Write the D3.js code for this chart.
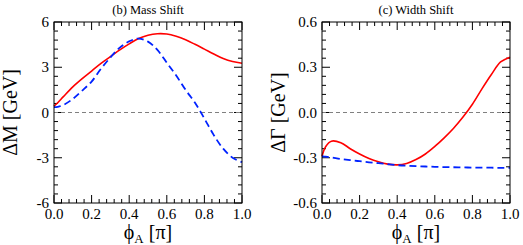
<!DOCTYPE html>
<html>
<head>
<meta charset="utf-8">
<script src="https://d3js.org/d3.v7.min.js"></script>
<style>
  body { margin: 0; background: #fff; }
  svg text { font-family: "Liberation Serif", "Times New Roman", serif; fill: #000; }
</style>
</head>
<body>
<div id="chart"></div>
<script>
const width = 523, height = 245

// phi_A in units of pi
const phi = [0, 0.02, 0.05, 0.1, 0.15, 0.2, 0.25, 0.3, 0.35, 0.4, 0.45, 0.5, 0.55, 0.6, 0.65, 0.7, 0.75, 0.8, 0.85, 0.9, 0.95, 1.0]

// (b) mass shift, GeV
const massRed  = [0.42, 0.65, 1.05, 1.7, 2.25, 2.75, 3.25, 3.7, 4.15, 4.55, 4.9, 5.12, 5.22, 5.2, 5.05, 4.82, 4.52, 4.2, 3.88, 3.58, 3.38, 3.27]
const massBlue = [0.35, 0.38, 0.5, 0.9, 1.45, 2.05, 2.9, 3.65, 4.3, 4.72, 4.9, 4.7, 4.15, 3.3, 2.45, 1.5, 0.65, -0.4, -1.5, -2.4, -3.0, -3.3]

// (c) width shift, GeV
const widthRed  = [-0.29, -0.225, -0.19, -0.2, -0.24, -0.275, -0.305, -0.327, -0.342, -0.347, -0.338, -0.312, -0.275, -0.225, -0.168, -0.104, -0.03, 0.055, 0.155, 0.25, 0.335, 0.367]
const widthBlue = [-0.29, -0.293, -0.298, -0.308, -0.316, -0.323, -0.33, -0.336, -0.343, -0.349, -0.353, -0.356, -0.358, -0.36, -0.362, -0.363, -0.364, -0.365, -0.366, -0.366, -0.367, -0.367]

const xTicks = [0, 0.2, 0.4, 0.6, 0.8, 1.0]
const massTicks = [-6, -3, 0, 3, 6]
const widthTicks = [-0.6, -0.3, 0, 0.3, 0.6]

const fmtInt = d3.formatLocale({ decimal: ".", thousands: ",", grouping: [3], currency: ["", ""], minus: "-" }).format("d")
const fmt1 = d3.formatLocale({ decimal: ".", thousands: ",", grouping: [3], currency: ["", ""], minus: "-" }).format(".1f")

const panels = [
  { title: "(b) Mass Shift", ylab: "\u0394M [GeV]", x0: 54, yDomain: [-6, 6], yTicks: massTicks, yMinor: 0.6,
    fmt: fmtInt, red: massRed, blue: massBlue },
  { title: "(c) Width Shift", ylab: "\u0394\u0393 [GeV]", x0: 322, yDomain: [-0.6, 0.6], yTicks: widthTicks, yMinor: 0.06,
    fmt: fmt1, red: widthRed, blue: widthBlue }
]

const svg = d3.select("#chart").append("svg")
  .attr("width", width).attr("height", height)

const pw = 188, yTop = 22, yBot = 203

panels.forEach(p => {
  const x = d3.scaleLinear().domain([0, 1]).range([p.x0, p.x0 + pw])
  const y = d3.scaleLinear().domain(p.yDomain).range([yBot, yTop])
  const g = svg.append("g")

  // ticks, inward on all four sides
  const xMinor = d3.range(0, 1.0001, 0.04)
  xMinor.forEach((v, i) => {
    const len = (i % 5 === 0) ? 8 : 4
    g.append("line").attr("x1", x(v)).attr("x2", x(v)).attr("y1", yBot).attr("y2", yBot - len)
      .attr("stroke", "#000").attr("stroke-width", 1)
    g.append("line").attr("x1", x(v)).attr("x2", x(v)).attr("y1", yTop).attr("y2", yTop + len)
      .attr("stroke", "#000").attr("stroke-width", 1)
  })
  const n = Math.round((p.yDomain[1] - p.yDomain[0]) / p.yMinor)
  d3.range(n + 1).forEach(i => {
    const v = p.yDomain[0] + i * p.yMinor
    const len = (i % 5 === 0) ? 8 : 4
    g.append("line").attr("x1", p.x0).attr("x2", p.x0 + len).attr("y1", y(v)).attr("y2", y(v))
      .attr("stroke", "#000").attr("stroke-width", 1)
    g.append("line").attr("x1", p.x0 + pw).attr("x2", p.x0 + pw - len).attr("y1", y(v)).attr("y2", y(v))
      .attr("stroke", "#000").attr("stroke-width", 1)
  })

  // zero line
  g.append("line").attr("x1", p.x0).attr("x2", p.x0 + pw).attr("y1", y(0)).attr("y2", y(0))
    .attr("stroke", "#808080").attr("stroke-width", 1.2).attr("stroke-dasharray", "4,3")

  const line = arr => d3.line().x((d, i) => x(phi[i])).y(d => y(d)).curve(d3.curveCatmullRom)(arr)

  g.append("path").attr("d", line(p.red)).attr("fill", "none")
    .attr("stroke", "#ff0000").attr("stroke-width", 1.6)
  g.append("path").attr("d", line(p.blue)).attr("fill", "none")
    .attr("stroke", "#0022ff").attr("stroke-width", 1.8).attr("stroke-dasharray", "7,4")

  // frame
  g.append("rect").attr("x", p.x0).attr("y", yTop).attr("width", pw).attr("height", yBot - yTop)
    .attr("fill", "none").attr("stroke", "#000").attr("stroke-width", 1)

  // tick labels
  xTicks.forEach(v => {
    g.append("text").attr("x", x(v)).attr("y", 219).attr("text-anchor", "middle")
      .attr("font-size", 15).text(fmt1(v))
  })
  p.yTicks.forEach(v => {
    g.append("text").attr("x", p.x0 - 5).attr("y", y(v) + 5).attr("text-anchor", "end")
      .attr("font-size", 15).text(p.fmt(v))
  })

  // titles
  g.append("text").attr("x", p.x0 + pw / 2).attr("y", 14).attr("text-anchor", "middle")
    .attr("font-size", 12.5).text(p.title)
  const xl = g.append("text").attr("x", p.x0 + pw / 2).attr("y", 239).attr("text-anchor", "middle")
    .attr("font-size", 20)
  xl.append("tspan").text("\u03d5")
  xl.append("tspan").attr("dy", 4).attr("font-size", 13).text("A")
  xl.append("tspan").attr("dy", -4).text(" [\u03c0]")
  g.append("text").attr("transform", `translate(${p.x0 - 37},${(yTop + yBot) / 2}) rotate(-90)`)
    .attr("text-anchor", "middle").attr("font-size", 20).text(p.ylab)
})
</script>
</body>
</html>
